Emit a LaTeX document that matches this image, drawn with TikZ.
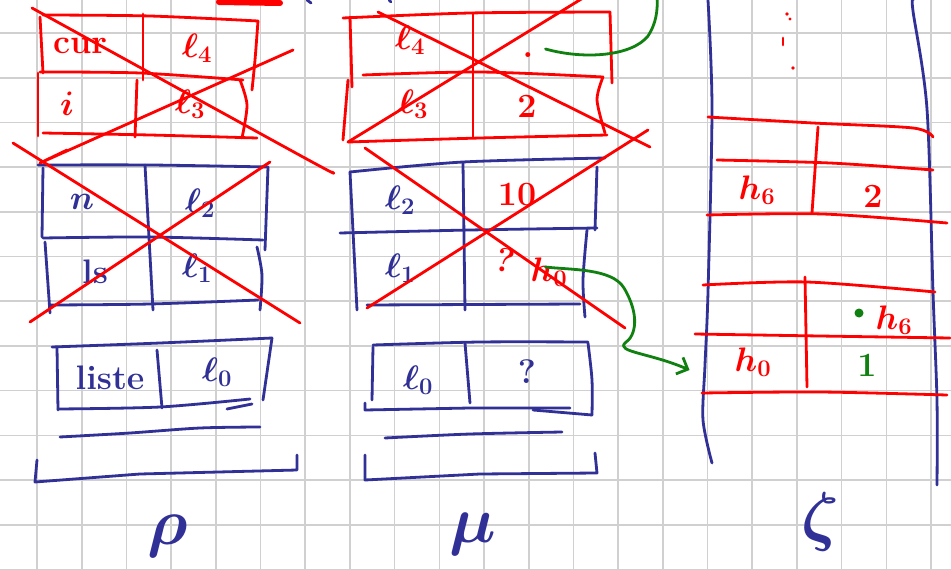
\RequirePackage{fix-cm}
\documentclass[tikz,border=0pt]{standalone}
\usetikzlibrary{arrows.meta}
\definecolor{penblue}{RGB}{48,48,150}
\definecolor{penred}{RGB}{255,0,0}
\definecolor{pengreen}{RGB}{16,128,16}
\definecolor{gridgray}{RGB}{208,208,208}
\begin{document}
\begin{tikzpicture}[x=1pt,y=-1pt,
 gridline/.style={draw=gridgray,line width=1.6pt},
 pen/.style={line width=2.8pt,line cap=round,line join=round},
 redpen/.style={pen,draw=penred},
 bluepen/.style={pen,draw=penblue},
 greenpen/.style={pen,draw=pengreen},
 hand/.style={inner sep=0pt,font=\fontsize{34}{36}\selectfont\bfseries\boldmath},
 redtxt/.style={hand,text=penred},
 bluetxt/.style={hand,text=penblue},
 greentxt/.style={hand,text=pengreen},
 bigtxt/.style={inner sep=0pt,font=\fontsize{66}{68}\selectfont\boldmath,text=penblue},
]
\useasboundingbox (0,0) rectangle (951,570);
\fill[white] (0,0) rectangle (951,570);
% grid paper
\foreach \k in {0,...,20} \draw[gridline] ({37+44.7*\k},0) -- ({37+44.7*\k},570);
\foreach \k in {0,...,12} \draw[gridline] (0,{33+44.7*\k}) -- (951,{33+44.7*\k});

% scraps at the top edge
\draw[penred,line width=6pt,line cap=round] (219,2) -- (280,3);
\draw[bluepen] (307,0) -- (311,3);
\draw[bluepen] (389,0) -- (391,2);

% ================= rho =================
% red (crossed) block
\draw[redpen] plot[smooth] coordinates {(43,15) (150,16) (258,21)};
\draw[redpen] (40,17) -- (43,73);
\draw[redpen] plot[smooth] coordinates {(258,21) (255,60) (252,90)};
\draw[redpen] plot[smooth] coordinates {(40,72) (140,73) (243,80)};
\draw[redpen] (143,14) -- (143,80);
\draw[redpen] (38,73) -- (38,136);
\draw[redpen] (137,80) -- (135,137);
\draw[redpen] plot[smooth] coordinates {(240,80) (247,105) (242,138)};
\draw[redpen] plot[smooth] coordinates {(43,133) (150,135) (257,138)};
\node[redtxt] (rcur) at (80,46) {cur};
\node[redtxt] (rlfour) at (197,48) {$\ell_4$};
\node[redtxt] (ri) at (67,104) {$i$};
\node[redtxt] (rlthree) at (190,104) {$\ell_3$};
% blue block
\draw[bluepen] plot[smooth] coordinates {(38,165) (150,165) (268,167)};
\draw[bluepen] (43,168) -- (42,237);
\draw[bluepen] (45,242) -- (50,313);
\draw[bluepen] plot[smooth] coordinates {(43,238) (150,237) (263,240)};
\draw[bluepen] (145,165) -- (153,310);
\draw[bluepen] (268,167) -- (265,250);
\draw[bluepen] plot[smooth] coordinates {(257,247) (262,275) (260,310)};
\draw[bluepen] plot[smooth] coordinates {(50,305) (150,304) (258,300)};
\node[bluetxt] (rn) at (82,202) {$n$};
\node[bluetxt] (rltwo) at (200,203) {$\ell_2$};
\node[bluetxt] (rls) at (95,272) {ls};
\node[bluetxt] (rlone) at (197,268) {$\ell_1$};
% red crosses
\draw[redpen] plot[smooth] coordinates {(32,8) (303,157) (332,172)};
\draw[redpen] (293,50) -- (40,163) -- (67,150);
\draw[redpen] (13,143) -- (300,323);
\draw[redpen] (30,322) -- (270,162);
% bottom block
\draw[bluepen] plot[smooth] coordinates {(52,347) (160,343) (272,338)};
\draw[bluepen] (57,347) -- (58,410);
\draw[bluepen] plot[smooth] coordinates {(58,409) (160,407) (250,399)};
\draw[bluepen] (227,409) -- (252,404);
\draw[bluepen] (272,338) -- (263,400);
\draw[bluepen] (157,350) -- (162,408);
\node[bluetxt] (rliste) at (110,378) {liste};
\node[bluetxt] (rlzero) at (217,372) {$\ell_0$};
\draw[bluepen] plot[smooth] coordinates {(60,437) (130,433) (200,428) (260,427)};
\draw[bluepen] (37,460) -- (35,482) -- (140,474) -- (297,470) -- (297,455);
\node[bigtxt] (rho) at (168,536) {$\rho$};

% ================= mu =================
% red (crossed) block
\draw[redpen] plot[smooth] coordinates {(343,18) (470,13) (610,12)};
\draw[redpen] (350,17) -- (352,87);
\draw[redpen] (610,12) -- (612,83);
\draw[redpen] plot[smooth] coordinates {(363,75) (480,72) (603,77)};
\draw[redpen] (473,13) -- (473,137);
\draw[redpen] (348,80) -- (343,140);
\draw[redpen] plot[smooth] coordinates {(603,77) (597,100) (605,133)};
\draw[redpen] plot[smooth] coordinates {(348,142) (480,138) (607,135)};
\node[redtxt] (mlfour) at (410,40) {$\ell_4$};
\node[redtxt] (mdot) at (528,55) {.};
\node[redtxt] (mlthree) at (413,104) {$\ell_3$};
\node[redtxt] (mtwo) at (527,106) {2};
\draw[redpen] (378,12) -- (650,147);
\draw[redpen] (348,142) -- (583,-2);
% blue block
\draw[bluepen] plot[smooth] coordinates {(350,172) (463,162) (605,158)};
\draw[bluepen] (350,172) -- (357,310);
\draw[bluepen] plot[smooth] coordinates {(340,233) (470,230) (597,228)};
\draw[bluepen] (463,163) -- (465,310);
\draw[bluepen] (367,305) -- (580,304);
\draw[bluepen] (597,167) -- (595,230);
\draw[bluepen] plot[smooth] coordinates {(587,230) (583,280) (585,317)};
\node[bluetxt] (mltwo) at (400,200) {$\ell_2$};
\node[redtxt] (mten) at (517,195) {10};
\node[bluetxt] (mlone) at (400,268) {$\ell_1$};
\node[redtxt,rotate=-15] (mq) at (505,260) {?};
\node[redtxt] (mhzero) at (549,272) {$h_0$};
\draw[redpen] (365,148) -- (625,328);
\draw[redpen] (367,308) -- (648,130);
% bottom block
\draw[bluepen] plot[smooth] coordinates {(373,345) (480,342) (588,342)};
\draw[bluepen] (373,347) -- (372,400);
\draw[bluepen] (365,403) -- (365,410) -- (470,408) -- (570,408);
\draw[bluepen] plot[smooth] coordinates {(588,343) (592,380) (592,415)};
\draw[bluepen] (592,415) -- (533,410);
\draw[bluepen] (465,343) -- (470,403);
\node[bluetxt] (mlzero) at (418,380) {$\ell_0$};
\node[bluetxt] (mqq) at (527,372) {?};
\draw[bluepen] plot[smooth] coordinates {(385,438) (470,434) (562,432)};
\draw[bluepen] (365,455) -- (365,480) -- (480,474) -- (597,473) -- (595,453);
\node[bigtxt] (mu) at (473,534) {$\mu$};

% ================= heap =================
\draw[bluepen] plot[smooth] coordinates {(708,0) (712,109) (708,292) (705,365) (703,420) (712,463)};
\draw[bluepen] plot[smooth] coordinates {(913,0) (913,11) (927,109) (933,292) (937,401) (937,485)};
\fill[penred] (787,14) circle (1.8) (790,19) circle (1.6);
\draw[redpen] (783,38) -- (783,45);
\fill[penred] (793,68) circle (1.8);
% upper cell
\draw[redpen] plot[smooth] coordinates {(708,117) (813,123) (913,128) (933,137)};
\draw[redpen] plot[smooth] coordinates {(717,160) (830,163) (933,170)};
\draw[redpen] plot[smooth] coordinates {(707,215) (823,214) (947,223)};
\draw[redpen] (818,127) -- (812,213);
\node[redtxt] (hsixa) at (757,190) {$h_6$};
\node[redtxt] (htwo) at (873,196) {2};
% lower cell
\draw[redpen] plot[smooth] coordinates {(703,285) (807,282) (935,292)};
\draw[redpen] plot[smooth] coordinates {(695,334) (820,336) (950,338)};
\draw[redpen] plot[smooth] coordinates {(702,393) (820,392) (947,395)};
\draw[redpen] (805,277) -- (807,387);
\fill[pengreen] (859,313) circle (4.5);
\node[redtxt] (hsixb) at (894,320) {$h_6$};
\node[redtxt] (hzero) at (753,362) {$h_0$};
\node[greentxt] (hone) at (867,365) {1};
\node[bigtxt] (zeta) at (820,522) {$\zeta$};

% ================= green pointers =================
\coordinate (gtop) at (657,-3);
\draw[greenpen] ([xshift=12pt,yshift=6pt]mdot.east) .. controls (585,60) and (632,56) .. (648,36) .. controls (656,24) and (658,10) .. (gtop);
\coordinate (gend) at ([xshift=-45pt,yshift=-8pt]hzero.west);
\draw[greenpen,-{Straight Barb[length=9pt,width=18pt]}] ([xshift=-22pt,yshift=5pt]mhzero.east) .. controls (570,270) and (612,268) .. (624,288) .. controls (640,315) and (636,336) .. (625,343) .. controls (616,352) and (650,353) .. (gend);
\end{tikzpicture}
\end{document}
